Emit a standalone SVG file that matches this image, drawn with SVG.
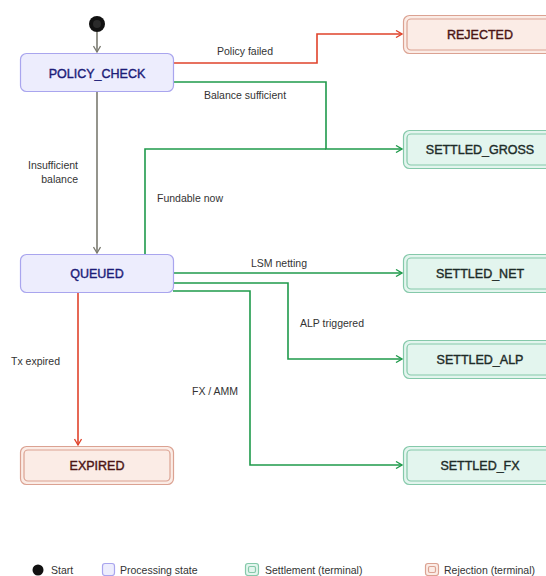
<svg xmlns="http://www.w3.org/2000/svg" width="546" height="576" viewBox="0 0 546 576">
<defs>
<marker id="ag" markerWidth="8" markerHeight="8" refX="7" refY="4" orient="auto" markerUnits="userSpaceOnUse"><path d="M1,0.5 L7,4 L1,7.5" fill="none" stroke="#7a7a70" stroke-width="1.3"/></marker>
<marker id="ar" markerWidth="8" markerHeight="8" refX="7" refY="4" orient="auto" markerUnits="userSpaceOnUse"><path d="M1,0.5 L7,4 L1,7.5" fill="none" stroke="#e0432b" stroke-width="1.3"/></marker>
<marker id="agr" markerWidth="8" markerHeight="8" refX="7" refY="4" orient="auto" markerUnits="userSpaceOnUse"><path d="M1,0.5 L7,4 L1,7.5" fill="none" stroke="#1f9a4b" stroke-width="1.3"/></marker>
</defs>
<style>
.proc{fill:#ededfd;stroke:#a9a5ee;stroke-width:1.2}
.set{fill:#e3f5ee;stroke:#85c9aa;stroke-width:1.2}
.rej{fill:#fbece6;stroke:#dba292;stroke-width:1.2}
.nt{font-family:"Liberation Sans",Arial,sans-serif;font-size:12.5px;text-anchor:middle;stroke-width:0.4}
.pt{fill:#1c1c78;stroke:#1c1c78}
.st{fill:#1d2b28;stroke:#1d2b28}
.rt{fill:#4a1414;stroke:#4a1414}
.lb{font-family:"Liberation Sans",Arial,sans-serif;font-size:10.5px;fill:#333}
.e{fill:none;stroke-width:1.6}
.eg{stroke:#7a7a70}
.er{stroke:#e0432b}
.egr{stroke:#1f9a4b}
</style>
<rect width="546" height="576" fill="#fff"/>
<g id="connectors">
<path class="e eg" d="M97,32 V52" marker-end="url(#ag)"/>
<path class="e er" d="M173,63 H317 V34 H402" marker-end="url(#ar)"/>
<path class="e egr" d="M173,82 H326 V149 H402" marker-end="url(#agr)"/>
<path class="e eg" d="M97,91 V253" marker-end="url(#ag)"/>
<path class="e egr" d="M145,254 V149 H326"/>
<path class="e egr" d="M173,273 H402" marker-end="url(#agr)"/>
<path class="e egr" d="M173,283 H288 V359 H402" marker-end="url(#agr)"/>
<path class="e egr" d="M173,291 H250 V465 H402" marker-end="url(#agr)"/>
<path class="e er" d="M78,292 V445" marker-end="url(#ar)"/>
<text class="lb" x="245" y="55" text-anchor="middle">Policy failed</text>
<text class="lb" x="245" y="99" text-anchor="middle">Balance sufficient</text>
<text class="lb" x="78" y="169" text-anchor="end">Insufficient</text>
<text class="lb" x="78" y="183" text-anchor="end">balance</text>
<text class="lb" x="157" y="202">Fundable now</text>
<text class="lb" x="279" y="267" text-anchor="middle">LSM netting</text>
<text class="lb" x="300" y="327">ALP triggered</text>
<text class="lb" x="192" y="395">FX / AMM</text>
<text class="lb" x="11" y="365">Tx expired</text>
</g>
<g id="start"><circle cx="97" cy="24" r="8" fill="#111"/><circle cx="97" cy="24" r="4" fill="#2a2a2a"/></g>
<g id="policy_check"><rect class="proc" x="20.5" y="53.5" width="153" height="38" rx="6"/><text class="nt pt" x="97" y="77.5">POLICY_CHECK</text></g>
<g id="queued"><rect class="proc" x="20.5" y="254.5" width="153" height="38" rx="6"/><text class="nt pt" x="97" y="278">QUEUED</text></g>
<g id="expired"><rect class="rej" x="20.5" y="446.5" width="153" height="38" rx="6"/><rect class="rej" x="24" y="450" width="146" height="31" rx="4"/><text class="nt rt" x="97" y="470">EXPIRED</text></g>
<g id="rejected"><rect class="rej" x="403.5" y="15.5" width="153" height="38" rx="6"/><rect class="rej" x="407" y="19" width="146" height="31" rx="4"/><text class="nt rt" x="480" y="39">REJECTED</text></g>
<g id="settled_gross"><rect class="set" x="403.5" y="130.5" width="153" height="38" rx="6"/><rect class="set" x="407" y="134" width="146" height="31" rx="4"/><text class="nt st" x="480" y="154">SETTLED_GROSS</text></g>
<g id="settled_net"><rect class="set" x="403.5" y="254.5" width="153" height="38" rx="6"/><rect class="set" x="407" y="258" width="146" height="31" rx="4"/><text class="nt st" x="480" y="278">SETTLED_NET</text></g>
<g id="settled_alp"><rect class="set" x="403.5" y="340.5" width="153" height="38" rx="6"/><rect class="set" x="407" y="344" width="146" height="31" rx="4"/><text class="nt st" x="480" y="364">SETTLED_ALP</text></g>
<g id="settled_fx"><rect class="set" x="403.5" y="446.5" width="153" height="38" rx="6"/><rect class="set" x="407" y="450" width="146" height="31" rx="4"/><text class="nt st" x="480" y="470">SETTLED_FX</text></g>
<g id="legend">
<circle cx="38" cy="570" r="5.5" fill="#111"/>
<text class="lb" x="51" y="574">Start</text>
<rect class="proc" x="102.5" y="563.5" width="12" height="12" rx="2.5"/>
<text class="lb" x="120" y="574">Processing state</text>
<rect class="set" x="245.5" y="563.5" width="13" height="12" rx="2.5"/><rect class="set" x="248.5" y="566.5" width="7" height="6" rx="1.5"/>
<text class="lb" x="265" y="574">Settlement (terminal)</text>
<rect class="rej" x="425.5" y="563.5" width="13" height="12" rx="2.5"/><rect class="rej" x="428.5" y="566.5" width="7" height="6" rx="1.5"/>
<text class="lb" x="444" y="574">Rejection (terminal)</text>
</g>
</svg>
